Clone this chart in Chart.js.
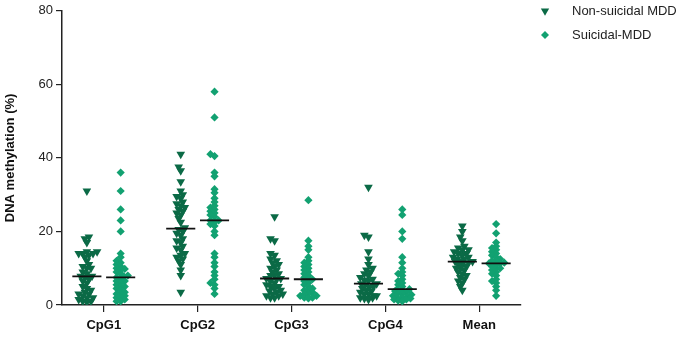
<!DOCTYPE html>
<html>
<head>
<meta charset="utf-8">
<script src="https://cdn.jsdelivr.net/npm/chart.js@4.4.1/dist/chart.umd.min.js"></script>
<style>
html,body{margin:0;padding:0;background:#fff;}
#wrap{width:682px;height:337px;position:relative;}
</style>
</head>
<body>
<div id="wrap"><canvas id="c"></canvas></div>
<script>
const categories = ['CpG1', 'CpG2', 'CpG3', 'CpG4', 'Mean'];
const yTicks = [0, 20, 40, 60, 80];
const seriesNames = ['Non-suicidal MDD', 'Suicidal-MDD'];

const nonSuicidalCpG1 = [31, 18.5, 18, 17, 14.5, 14.5, 14, 14, 14, 13.5, 13, 12, 11, 10.5, 10, 10, 9, 8.5, 7.8, 7.8, 7.5, 7, 6.5, 6, 5, 4.5, 4, 3.5, 3, 3, 2.5, 2, 2, 1.5, 1, 1, 0.8];
const suicidalCpG1 = [36, 31, 26, 23, 20, 14, 13, 12, 11.5, 11, 10.5, 10, 9.8, 9.5, 9, 8.5, 8, 7.8, 7.5, 7, 6.5, 6.5, 6, 5.5, 5, 5, 4.5, 4, 3.5, 3, 3, 2.5, 2, 2, 1.5, 1, 1];
const nonSuicidalCpG2 = [41, 37.5, 36.5, 33.5, 31, 30, 29.5, 29, 28, 27.5, 27, 26.5, 26, 25.5, 25, 24.5, 23.5, 22.5, 21, 20.5, 20, 19.5, 19, 18, 17.5, 17, 16, 15.5, 15, 14, 13.5, 13, 12.5, 12, 11, 9.5, 8, 3.5];
const suicidalCpG2 = [58, 51, 41, 40.5, 36, 35, 31.5, 30.5, 29, 28, 27, 26.5, 26, 25.5, 25, 24.5, 24, 23, 23, 22.5, 22, 21.5, 20, 19, 14, 13, 11.5, 10.5, 9, 8, 7, 6, 5.5, 4.5, 3];
const nonSuicidalCpG3 = [24, 18, 17.5, 14, 13.5, 12.5, 12, 11.5, 11, 10.5, 10, 9.5, 9, 8.5, 8, 8, 7.2, 7.2, 7, 6.5, 6, 5.5, 5, 5, 4.5, 4, 3.8, 3.5, 3, 3, 2.5, 2.5, 2, 2];
const suicidalCpG3 = [28.5, 17.5, 16, 15, 13, 12, 11.5, 11, 10.5, 10, 9.5, 9, 8.5, 8, 7.5, 7, 7, 6.5, 6, 5.5, 5, 4.5, 4, 4, 3.5, 3, 3, 2.5, 2.5, 2, 2, 1.8];
const nonSuicidalCpG4 = [32, 19, 18.5, 14.5, 12.5, 11, 10, 9.5, 9, 8.5, 8, 7.5, 7, 6.8, 6.5, 5.8, 5.8, 5.5, 5, 4.8, 4.5, 4, 3.8, 3.5, 3, 3, 2.5, 2.5, 2, 2, 1.8, 1.5];
const suicidalCpG4 = [26, 24.5, 20, 18, 13, 11.5, 10, 9, 8.5, 8, 7, 6.5, 6, 5.5, 5, 4.3, 4.3, 4, 3.8, 3.5, 3.2, 3, 2.8, 2.5, 2.3, 2, 2, 1.8, 1.5, 1.5, 1.2, 1];
const nonSuicidalMean = [21.5, 20, 18.5, 17.5, 16, 15.5, 15, 15, 14.5, 14, 14, 13.5, 13, 13, 12.5, 12.5, 12, 11.8, 11.8, 11.5, 11, 11, 10.5, 10, 10, 9.5, 9, 8.5, 8, 7.5, 7, 6.5, 6, 5, 4];
const suicidalMean = [22, 19.5, 17, 16, 15.5, 15, 14.5, 14, 13.5, 13, 12.5, 12, 12, 11.5, 11.3, 11.3, 11, 10.5, 10, 10, 9.5, 9, 8.5, 8, 7, 6.5, 6, 5, 4, 2.5];

const nonSuicidalGroups = [nonSuicidalCpG1, nonSuicidalCpG2, nonSuicidalCpG3, nonSuicidalCpG4, nonSuicidalMean];
const suicidalGroups = [suicidalCpG1, suicidalCpG2, suicidalCpG3, suicidalCpG4, suicidalMean];

const COL_NS = '#0b6a46';
const COL_S = '#12a171';
const GROUP_OFFSET = 0.18;
const MEDIAN_HALF = 0.155;
const PX_PER_X = 91.8;     // approximate pixels per category unit (layout for swarm)
const PX_PER_Y = 295 / 80; // approximate pixels per % unit

function median(arr) {
  const s = [...arr].sort((a, b) => a - b);
  const n = s.length;
  return n % 2 ? s[(n - 1) / 2] : (s[n / 2 - 1] + s[n / 2]) / 2;
}

// Beeswarm layout: spread points horizontally (layout only, values untouched)
function swarm(values, center, diam, maxSpread) {
  const order = values.map((v, i) => i).sort((a, b) => values[a] - values[b]);
  const placed = [];
  const out = new Array(values.length);
  order.forEach(i => {
    const py = values[i] * PX_PER_Y;
    let chosen = null;
    for (let k = 0; k <= maxSpread * 2; k++) {
      const dx = (k % 2 === 0 ? 1 : -1) * Math.ceil(k / 2);
      let ok = true;
      for (const p of placed) {
        const ddx = dx - p.x, ddy = py - p.y;
        if (ddx * ddx + ddy * ddy < diam * diam) { ok = false; break; }
      }
      if (ok) { chosen = dx; break; }
    }
    if (chosen === null) chosen = (placed.length % 2 ? 1 : -1) * Math.round(maxSpread * 0.5);
    placed.push({ x: chosen, y: py });
    out[i] = { x: center + chosen / PX_PER_X, y: values[i] };
  });
  return out;
}

const nsPoints = [], sPoints = [];
nonSuicidalGroups.forEach((g, i) => nsPoints.push(...swarm(g, i - GROUP_OFFSET, 4.0, 10)));
suicidalGroups.forEach((g, i) => sPoints.push(...swarm(g, i + GROUP_OFFSET, 3.6, 9)));

const medianSets = [];
nonSuicidalGroups.forEach((g, i) => {
  const m = median(g);
  medianSets.push({ type: 'line', label: 'median', data: [{ x: i - GROUP_OFFSET - MEDIAN_HALF, y: m }, { x: i - GROUP_OFFSET + MEDIAN_HALF, y: m }], borderColor: '#111', borderWidth: 1.8, pointRadius: 0, order: 0, showLine: true });
});
suicidalGroups.forEach((g, i) => {
  const m = median(g);
  medianSets.push({ type: 'line', label: 'median', data: [{ x: i + GROUP_OFFSET - MEDIAN_HALF, y: m }, { x: i + GROUP_OFFSET + MEDIAN_HALF, y: m }], borderColor: '#111', borderWidth: 1.8, pointRadius: 0, order: 0, showLine: true });
});

const FONT = "'Liberation Sans', Arial, Helvetica, sans-serif";

const legendPlugin = {
  id: 'customLegend',
  afterDraw(chart) {
    const ctx = chart.ctx;
    const items = [
      { text: seriesNames[0], style: 'triangle', rot: 180, r: 4.8, color: COL_NS, y: 11 },
      { text: seriesNames[1], style: 'rectRot', rot: 0, r: 4.0, color: COL_S, y: 35 }
    ];
    ctx.save();
    items.forEach(it => {
      ctx.fillStyle = it.color;
      ctx.strokeStyle = it.color;
      Chart.helpers.drawPoint(ctx, { pointStyle: it.style, rotation: it.rot, radius: it.r, borderWidth: 0 }, 545, it.y);
      ctx.fillStyle = '#222';
      ctx.font = '13px ' + FONT;
      ctx.textBaseline = 'middle';
      ctx.textAlign = 'left';
      ctx.fillText(it.text, 572, it.y);
    });
    ctx.restore();
  }
};

new Chart(document.getElementById('c'), {
  type: 'scatter',
  data: {
    datasets: [
      { label: seriesNames[0], data: nsPoints, pointStyle: 'triangle', rotation: 180, pointRadius: 5.0, backgroundColor: COL_NS, borderColor: COL_NS, borderWidth: 0, order: 1 },
      { label: seriesNames[1], data: sPoints, pointStyle: 'rectRot', pointRadius: 4.1, backgroundColor: COL_S, borderColor: COL_S, borderWidth: 0, order: 1 },
      ...medianSets
    ]
  },
  options: {
    responsive: true,
    maintainAspectRatio: false,
    animation: false,
    devicePixelRatio: 1,
    layout: { padding: { top: 4, left: 0, right: 161, bottom: 0 } },
    plugins: {
      tooltip: { enabled: false },
      legend: { display: false }
    },
    scales: {
      x: {
        type: 'linear',
        min: -0.445,
        max: 4.445,
        afterBuildTicks: axis => { axis.ticks = categories.map((c, i) => ({ value: i })); },
        afterFit: axis => { axis.height = 32; },
        ticks: {
          callback: v => categories[v],
          color: '#111',
          font: { family: FONT, size: 13, weight: 'bold' },
          padding: 6,
          maxRotation: 0
        },
        grid: { display: true, drawOnChartArea: false, drawTicks: true, tickLength: 7, color: '#222', lineWidth: 1.2 },
        border: { display: true, color: '#222', width: 1.5 }
      },
      y: {
        min: 0,
        max: 80,
        afterBuildTicks: axis => { axis.ticks = yTicks.map(v => ({ value: v })); },
        afterFit: axis => { axis.width = 62; },
        ticks: {
          color: '#222',
          font: { family: FONT, size: 13 },
          padding: 3
        },
        grid: { display: true, drawOnChartArea: false, drawTicks: true, tickLength: 6, color: '#222', lineWidth: 1.2 },
        border: { display: true, color: '#222', width: 1.5 },
        title: {
          display: true,
          text: 'DNA methylation (%)',
          color: '#111',
          font: { family: FONT, size: 13, weight: 'bold' },
          padding: { top: 3, bottom: 6 }
        }
      }
    }
  },
  plugins: [legendPlugin]
});
</script>
</body>
</html>
